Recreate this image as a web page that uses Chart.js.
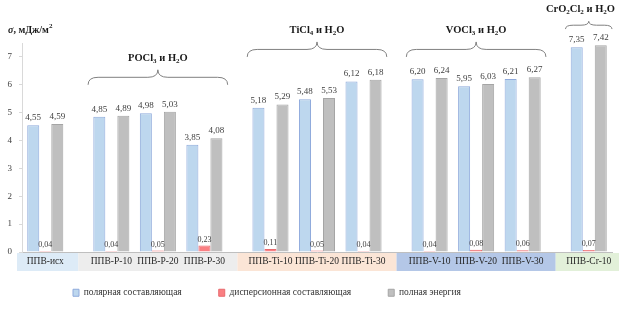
<!DOCTYPE html>
<html>
<head>
<meta charset="utf-8">
<script src="https://cdn.jsdelivr.net/npm/chart.js@4.4.1/dist/chart.umd.min.js"></script>
<style>
  html, body { margin: 0; padding: 0; background: #fff; }
</style>
</head>
<body>
<canvas id="grafico" width="619" height="313"></canvas>
<script>
// ---------------------------------------------------------------------------
// dados
var categorias = ['ППВ-исх', 'ППВ-P-10', 'ППВ-P-20', 'ППВ-P-30', 'ППВ-Ti-10', 'ППВ-Ti-20',
    'ППВ-Ti-30', 'ППВ-V-10', 'ППВ-V-20', 'ППВ-V-30', 'ППВ-Cr-10'];
var polar = [4.55, 4.85, 4.98, 3.85, 5.18, 5.48, 6.12, 6.20, 5.95, 6.21, 7.35];
var dispersao = [0.04, 0.04, 0.05, 0.23, 0.11, 0.05, 0.04, 0.04, 0.08, 0.06, 0.07];
var total = [4.59, 4.89, 5.03, 4.08, 5.29, 5.53, 6.18, 6.24, 6.03, 6.27, 7.42];
var nomesSeries = ['полярная составляющая', 'дисперсионная составляющая', 'полная энергия'];
var ticksY = [0, 1, 2, 3, 4, 5, 6, 7];

// a que grupo (reagente) pertence cada categoria
var grupoDe = [0, 1, 1, 1, 2, 2, 2, 3, 3, 3, 4];
// titulos dos grupos: [texto, 1 = subscrito]
var titulosGrupos = [
    null,
    [['POCl', 0], ['3', 1], [' и H', 0], ['2', 1], ['O', 0]],
    [['TiCl', 0], ['4', 1], [' и H', 0], ['2', 1], ['O', 0]],
    [['VOCl', 0], ['3', 1], [' и H', 0], ['2', 1], ['O', 0]],
    [['CrO', 0], ['2', 1], ['Cl', 0], ['2', 1], [' и H', 0], ['2', 1], ['O', 0]]
];
// altura (em unidades do eixo y) onde fica a chave de cada grupo
var niveisChaves = [null, 6, 7, 7, 8];

// ---------------------------------------------------------------------------
var FONTE = "'Liberation Serif', 'Times New Roman', serif";
var ESPACO_GRUPO = 0.42;   // espaço extra entre grupos, em categorias
var coresFaixa = ['#DDEBF7', '#EDEDED', '#FBE5D6', '#B4C7E7', '#E2F0D9'];

// posição de cada categoria no eixo x (índice + espaço dos grupos)
var posicoes = categorias.map(function (c, i) { return i + ESPACO_GRUPO * grupoDe[i]; });

function pontos(valores) {
    return valores.map(function (v, i) { return { x: posicoes[i], y: v }; });
}

function formatar(v) {
    return v.toFixed(2).replace('.', ',');
}

// desenha texto com subscritos (centrado em xc, sem passar da borda direita)
function textoRico(ctx, partes, xc, y, tam, limite) {
    var fNormal = 'bold ' + tam + 'px ' + FONTE;
    var fSub = 'bold ' + Math.round(tam * 0.7) + 'px ' + FONTE;
    var larg = 0;
    partes.forEach(function (p) {
        ctx.font = p[1] ? fSub : fNormal;
        larg += ctx.measureText(p[0]).width;
    });
    var x = Math.min(xc - larg / 2, limite - larg);
    ctx.textAlign = 'left';
    ctx.textBaseline = 'middle';
    partes.forEach(function (p) {
        ctx.font = p[1] ? fSub : fNormal;
        ctx.fillText(p[0], x, p[1] ? y + 3 : y);
        x += ctx.measureText(p[0]).width;
    });
}

function indicesDoGrupo(g) {
    var r = [];
    grupoDe.forEach(function (gg, i) { if (gg === g) r.push(i); });
    return r;
}

var pluginExtras = {
    id: 'extras',
    afterLayout: function (chart) {
        // legenda deslocada para a esquerda, como no original
        var lg = chart.legend;
        var pad = lg.options.labels.padding;
        lg.left = 73 - pad;
        lg.top = 293 - pad - 5;
    },
    beforeDraw: function (chart) {
        // faixas coloridas atrás dos rótulos do eixo x
        var ctx = chart.ctx, xs = chart.scales.x, area = chart.chartArea;
        var nGrupos = coresFaixa.length;
        for (var g = 0; g < nGrupos; g++) {
            var idx = indicesDoGrupo(g);
            var esq, dir;
            if (g === 0) {
                esq = area.left - 5;
            } else {
                var ant = indicesDoGrupo(g - 1);
                esq = xs.getPixelForValue((posicoes[ant[ant.length - 1]] + posicoes[idx[0]]) / 2);
            }
            if (g === nGrupos - 1) {
                dir = chart.width;
            } else {
                var prox = indicesDoGrupo(g + 1);
                dir = xs.getPixelForValue((posicoes[idx[idx.length - 1]] + posicoes[prox[0]]) / 2);
            }
            ctx.fillStyle = coresFaixa[g];
            ctx.fillRect(esq, area.bottom + 1, dir - esq, 18);
        }
    },
    afterDatasetsDraw: function (chart) {
        var ctx = chart.ctx, xs = chart.scales.x, ys = chart.scales.y;
        ctx.save();

        // valores acima das barras
        chart.data.datasets.forEach(function (ds, d) {
            var meta = chart.getDatasetMeta(d);
            ctx.fillStyle = '#404040';
            ctx.font = (d === 1 ? 8 : 9) + 'px ' + FONTE;
            ctx.textAlign = 'center';
            ctx.textBaseline = 'bottom';
            meta.data.forEach(function (el, i) {
                ctx.fillText(formatar(ds.data[i].y), el.x, el.y - (d === 1 ? 2 : 3));
            });
        });

        // chaves e títulos dos grupos
        for (var g = 1; g < titulosGrupos.length; g++) {
            var idx = indicesDoGrupo(g);
            var x0 = xs.getPixelForValue(posicoes[idx[0]] - 0.5);
            var x1 = xs.getPixelForValue(posicoes[idx[idx.length - 1]] + 0.5);
            var xc = (x0 + x1) / 2;
            var yFim = ys.getPixelForValue(niveisChaves[g]);
            var h = Math.min(15, (x1 - x0) / 6);
            var r = h / 2;
            var yMeio = yFim - r;
            var rx = Math.min(10, (x1 - x0) / 6);

            ctx.strokeStyle = '#808080';
            ctx.lineWidth = 1;
            ctx.beginPath();
            ctx.moveTo(x0, yFim);
            ctx.quadraticCurveTo(x0, yMeio, x0 + rx, yMeio);
            ctx.lineTo(xc - rx, yMeio);
            ctx.quadraticCurveTo(xc, yMeio, xc, yMeio - r);
            ctx.quadraticCurveTo(xc, yMeio, xc + rx, yMeio);
            ctx.lineTo(x1 - rx, yMeio);
            ctx.quadraticCurveTo(x1, yMeio, x1, yFim);
            ctx.stroke();

            ctx.fillStyle = '#1a1a1a';
            textoRico(ctx, titulosGrupos[g], xc, yFim - h - 12, 10.5, chart.width - 4);
        }

        // título do eixo y
        ctx.fillStyle = '#1a1a1a';
        ctx.textAlign = 'left';
        ctx.textBaseline = 'middle';
        var x = 8, y = 30;
        ctx.font = 'italic bold 10px ' + FONTE;
        ctx.fillText('σ', x, y);
        x += ctx.measureText('σ').width;
        ctx.font = 'bold 10px ' + FONTE;
        ctx.fillText(', мДж/м', x, y);
        x += ctx.measureText(', мДж/м').width;
        ctx.font = 'bold 7px ' + FONTE;
        ctx.fillText('2', x, y - 4);

        ctx.restore();
    }
};

var config = {
    type: 'bar',
    data: {
        datasets: [{
            label: nomesSeries[0],
            data: pontos(polar),
            backgroundColor: '#BDD7EE',
            borderColor: '#8FAADC',
            borderWidth: 1
        }, {
            label: nomesSeries[1],
            data: pontos(dispersao),
            backgroundColor: '#FA7F82',
            borderColor: '#E86A6E',
            borderWidth: 1
        }, {
            label: nomesSeries[2],
            data: pontos(total),
            backgroundColor: '#BFBFBF',
            borderColor: '#A5A5A5',
            borderWidth: 1
        }]
    },
    options: {
        responsive: false,
        animation: false,
        categoryPercentage: 0.775,
        barPercentage: 1,
        layout: { padding: { top: 43, left: 0, right: 7, bottom: 0 } },
        plugins: {
            tooltip: { enabled: false },
            legend: {
                position: 'bottom',
                align: 'start',
                maxHeight: 30,
                labels: {
                    boxWidth: 6,
                    boxHeight: 7,
                    padding: 37,
                    color: '#333333',
                    font: { family: FONTE, size: 9.5 }
                }
            }
        },
        scales: {
            x: {
                type: 'linear',
                offset: false,
                min: -0.5,
                max: posicoes[posicoes.length - 1] + 0.5,
                afterBuildTicks: function (scale) {
                    scale.ticks = posicoes.map(function (p) { return { value: p }; });
                },
                afterFit: function (scale) { scale.height = 31; },
                grid: { display: false, drawTicks: false },
                border: { display: true, color: '#BFBFBF' },
                ticks: {
                    autoSkip: false,
                    maxRotation: 0,
                    padding: 4,
                    color: '#262626',
                    font: { family: FONTE, size: 9.5 },
                    callback: function (v, i) { return categorias[i]; }
                }
            },
            y: {
                min: 0,
                max: 7.5,
                afterBuildTicks: function (scale) {
                    scale.ticks = ticksY.map(function (v) { return { value: v }; });
                },
                afterFit: function (scale) { scale.width = 22; },
                grid: { display: true, drawOnChartArea: false, drawTicks: true, tickLength: 3, color: '#D9D9D9' },
                border: { display: true, color: '#D9D9D9' },
                ticks: {
                    padding: 7,
                    color: '#404040',
                    font: { family: FONTE, size: 9 }
                }
            }
        }
    },
    plugins: [pluginExtras]
};

var grafico = new Chart(document.getElementById('grafico'), config);
</script>
</body>
</html>
